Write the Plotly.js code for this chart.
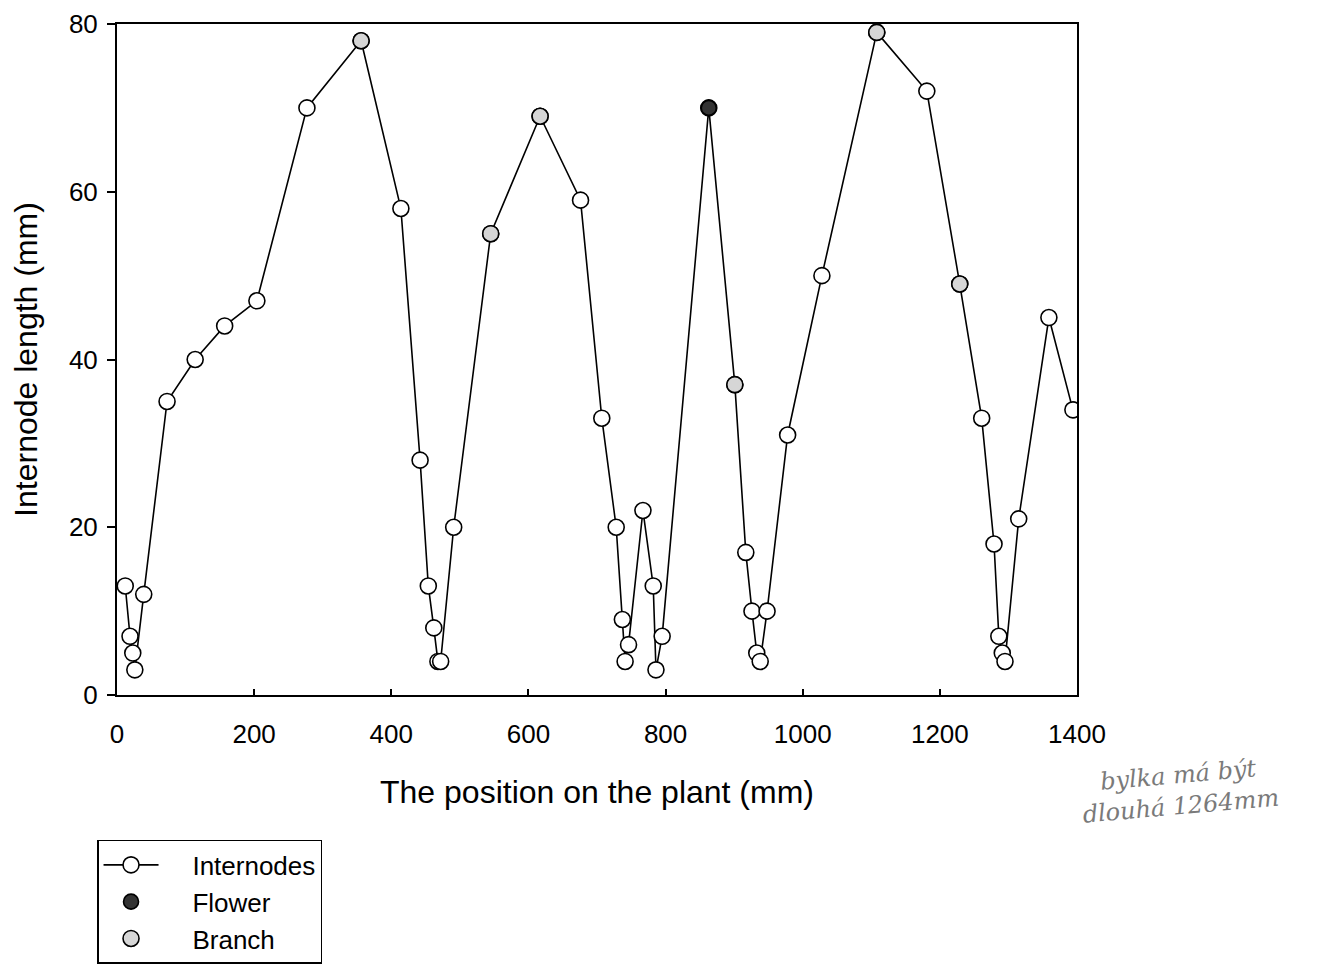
<!DOCTYPE html>
<html>
<head>
<meta charset="utf-8">
<script src="https://cdn.plot.ly/plotly-3.0.1.min.js"></script>
<style>html,body{margin:0;padding:0;background:#fff;}#chart{width:1335px;height:964px;}</style>
</head>
<body>
<div id="chart"></div>
<script>
// Internode positions along the plant (mm) and internode lengths (mm)
const positions = [12, 19, 23, 26, 39, 73, 114, 157, 204, 277, 356, 414, 442, 454, 462, 468, 472, 491, 545, 617, 676, 707, 728, 737, 741, 746, 767, 782, 786, 795, 863, 901, 917, 926, 933, 938, 948, 978, 1028, 1108, 1181, 1229, 1261, 1279, 1286, 1291, 1295, 1315, 1359, 1394];
const lengths   = [13, 7, 5, 3, 12, 35, 40, 44, 47, 70, 78, 58, 28, 13, 8, 4, 4, 20, 55, 69, 59, 33, 20, 9, 4, 6, 22, 13, 3, 7, 70, 37, 17, 10, 5, 4, 10, 31, 50, 79, 72, 49, 33, 18, 7, 5, 4, 21, 45, 34];

// Flower node
const flowerPositions = [863];
const flowerLengths   = [70];

// Branch nodes
const branchPositions = [356, 545, 617, 901, 1108, 1229];
const branchLengths   = [78, 55, 69, 37, 79, 49];

const xTicks = [0, 200, 400, 600, 800, 1000, 1200, 1400];
const yTicks = [0, 20, 40, 60, 80];

const font = 'Liberation Sans, Arial, sans-serif';
const pad = '\u00a0\u00a0\u00a0\u00a0';

const traces = [
  {
    x: positions, y: lengths, type: 'scatter', mode: 'lines+markers', name: pad + 'Internodes',
    line: {color: '#000', width: 1.6},
    marker: {symbol: 'circle', size: 16, color: '#ffffff', line: {color: '#000', width: 1.6}}
  },
  {
    x: flowerPositions, y: flowerLengths, type: 'scatter', mode: 'markers', name: pad + 'Flower',
    marker: {symbol: 'circle', size: 15, color: '#333333', line: {color: '#000', width: 1.6}}
  },
  {
    x: branchPositions, y: branchLengths, type: 'scatter', mode: 'markers', name: pad + 'Branch',
    marker: {symbol: 'circle', size: 16, color: '#d6d6d6', line: {color: '#000', width: 1.6}}
  }
];

const layout = {
  width: 1335, height: 964,
  paper_bgcolor: '#fff', plot_bgcolor: '#fff',
  margin: {l: 117, r: 258, t: 24, b: 269, autoexpand: false},
  showlegend: true,
  font: {family: font, color: '#000'},
  xaxis: {
    range: [0, 1400], tickvals: xTicks, ticktext: xTicks.map(String),
    showgrid: false, zeroline: false, showline: true, mirror: true,
    linecolor: '#000', linewidth: 2,
    ticks: 'inside', ticklen: 6, tickwidth: 1.5, tickcolor: '#000',
    tickfont: {size: 26, family: font}, ticklabelstandoff: 15,
    title: {text: 'The position on the plant (mm)', font: {size: 32, family: font}, standoff: 32}
  },
  yaxis: {
    range: [0, 80], tickvals: yTicks, ticktext: yTicks.map(String),
    showgrid: false, zeroline: false, showline: true, mirror: true,
    linecolor: '#000', linewidth: 2,
    ticks: 'outside', ticklen: 8, tickwidth: 1.5, tickcolor: '#000',
    tickfont: {size: 26, family: font}, ticklabelstandoff: 4,
    title: {text: 'Internode length (mm)', font: {size: 32, family: font}, standoff: 22}
  },
  legend: {
    x: -0.0208, y: -0.216, xanchor: 'left', yanchor: 'top',
    bgcolor: '#fff', bordercolor: '#000', borderwidth: 1.5,
    font: {size: 26, family: font}, tracegroupgap: 0, itemwidth: 55,
    traceorder: 'normal'
  },
  annotations: [
    {
      xref: 'paper', yref: 'paper', x: 1.107, y: -0.143, xanchor: 'center', yanchor: 'middle',
      text: 'bylka má být<br>dlouhá 1264mm', showarrow: false, textangle: -5,
      font: {family: 'DejaVu Serif, serif', size: 24, color: '#7a7a7a', style: 'italic'},
      align: 'center'
    }
  ]
};

Plotly.newPlot('chart', traces, layout, {displayModeBar: false});
</script>
</body>
</html>
